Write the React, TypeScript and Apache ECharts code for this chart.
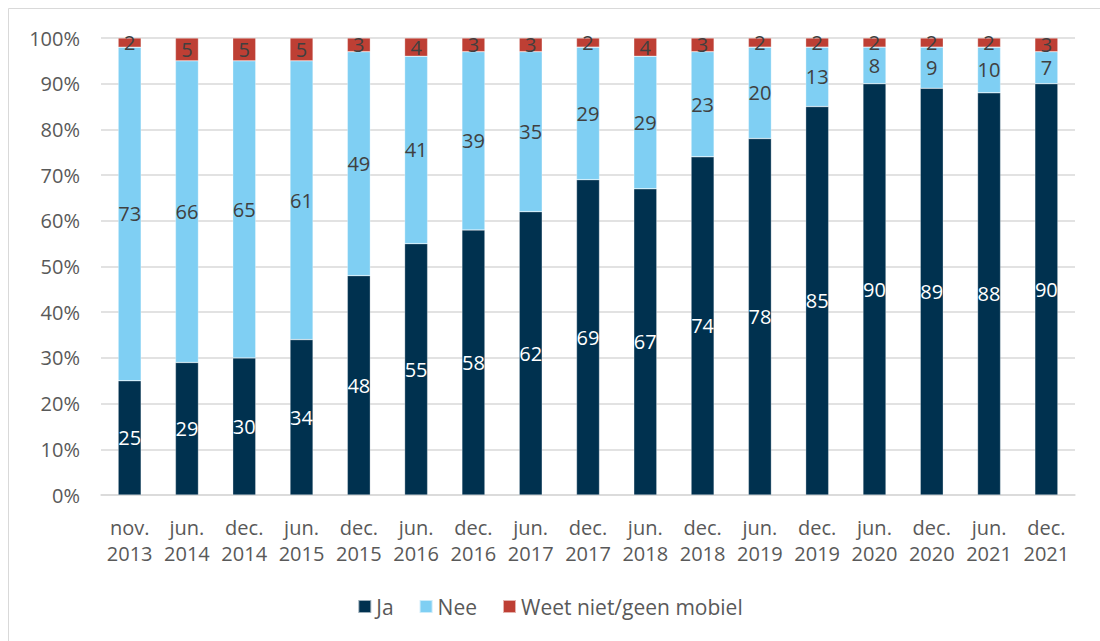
import React, { useEffect, useRef } from "react";
import * as echarts from "echarts";

const categories = [
  "nov.\n2013", "jun.\n2014", "dec.\n2014", "jun.\n2015", "dec.\n2015", "jun.\n2016",
  "dec.\n2016", "jun.\n2017", "dec.\n2017", "jun.\n2018", "dec.\n2018", "jun.\n2019",
  "dec.\n2019", "jun.\n2020", "dec.\n2020", "jun.\n2021", "dec.\n2021",
];
const ja = [25, 29, 30, 34, 48, 55, 58, 62, 69, 67, 74, 78, 85, 90, 89, 88, 90];
const nee = [73, 66, 65, 61, 49, 41, 39, 35, 29, 29, 23, 20, 13, 8, 9, 10, 7];
const weetNiet = [2, 5, 5, 5, 3, 4, 3, 3, 2, 4, 3, 2, 2, 2, 2, 2, 3];
const seriesNames = ["Ja", "Nee", "Weet niet/geen mobiel"];

const FONT = "'Open Sans', sans-serif";

export default function App() {
  const ref = useRef<HTMLDivElement>(null);
  useEffect(() => {
    document.body.style.margin = "0";
    const chart = echarts.init(ref.current!, null, { renderer: "svg" });
    const mkSeries = (name: string, data: number[], color: string, labelColor: string) => ({
      name,
      type: "bar",
      stack: "total",
      barWidth: 23,
      data,
      itemStyle: { color, borderColor: "rgba(255,255,255,0.6)", borderWidth: 0.5 },
      label: {
        show: true,
        position: "inside",
        color: labelColor,
        fontFamily: FONT,
        fontSize: 20,
        formatter: "{c}",
      },
    });
    chart.setOption({
      animation: false,
      textStyle: { fontFamily: FONT },
      graphic: [
        {
          type: "rect",
          shape: { x: 8.5, y: 8.5, width: 1200, height: 700 },
          style: { fill: "none", stroke: "#d9d9d9", lineWidth: 1 },
          silent: true,
        },
      ],
      grid: { left: 101, right: 25, top: 38, bottom: 146, containLabel: false },
      legend: {
        data: seriesNames,
        bottom: 19,
        left: "center",
        itemWidth: 13,
        itemHeight: 13,
        itemGap: 25,
        icon: "rect",
        textStyle: { color: "#595959", fontSize: 21, fontFamily: FONT, padding: [0, 0, 0, 0] },
      },
      xAxis: {
        type: "category",
        data: categories,
        axisLine: { lineStyle: { color: "#d9d9d9", width: 1.5 } },
        axisTick: { show: false },
        axisLabel: {
          color: "#595959",
          fontSize: 20,
          fontFamily: FONT,
          lineHeight: 26,
          margin: 19,
          interval: 0,
        },
      },
      yAxis: {
        type: "value",
        min: 0,
        max: 100,
        interval: 10,
        axisLine: { show: false },
        axisTick: { show: false },
        splitLine: { lineStyle: { color: "#d9d9d9", width: 1.5 } },
        axisLabel: {
          color: "#595959",
          fontSize: 20,
          fontFamily: FONT,
          margin: 21,
          formatter: "{value}%",
        },
      },
      series: [
        mkSeries(seriesNames[0], ja, "#00314F", "#ffffff"),
        mkSeries(seriesNames[1], nee, "#7FCFF3", "#404040"),
        mkSeries(seriesNames[2], weetNiet, "#BE3F34", "#404040"),
      ],
    });
    return () => chart.dispose();
  }, []);
  return <div ref={ref} style={{ width: 1100, height: 641 }} />;
}
